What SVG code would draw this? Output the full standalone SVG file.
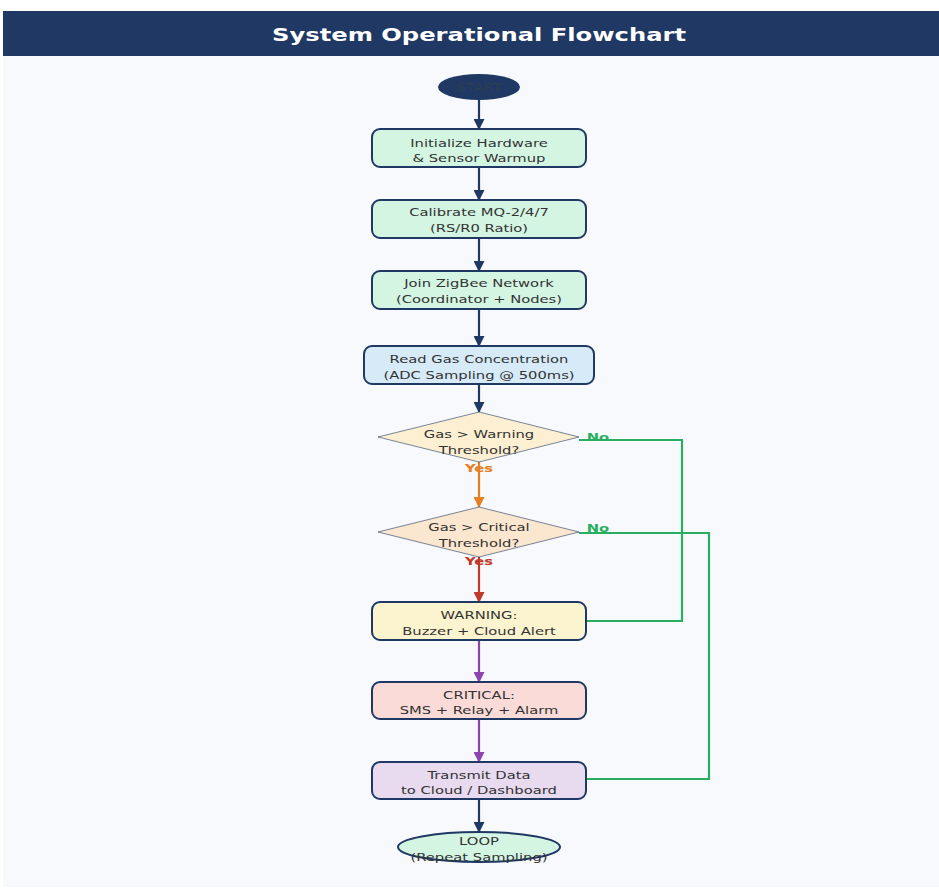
<svg xmlns="http://www.w3.org/2000/svg" width="939" height="889" viewBox="0 0 939 889">
<style>
.t{font-family:"DejaVu Sans",sans-serif;font-size:11px;fill:#333;text-anchor:middle}
.box{stroke:#1f3864;stroke-width:2}
.dia{stroke:#1f3864;stroke-width:1;stroke-opacity:0.6}
.c{fill:none;stroke-width:2.2}
.lbl{font-family:"DejaVu Sans",sans-serif;font-size:11px;font-weight:bold;text-anchor:middle}
</style>
<defs>
<marker id="aN" markerWidth="11" markerHeight="11" refX="10" refY="5.5" orient="auto" markerUnits="userSpaceOnUse"><path d="M0,0 L11,5.5 L0,11 Z" fill="#1f3864"/></marker>
<marker id="aO" markerWidth="11" markerHeight="11" refX="10" refY="5.5" orient="auto" markerUnits="userSpaceOnUse"><path d="M0,0 L11,5.5 L0,11 Z" fill="#e67e22"/></marker>
<marker id="aR" markerWidth="11" markerHeight="11" refX="10" refY="5.5" orient="auto" markerUnits="userSpaceOnUse"><path d="M0,0 L11,5.5 L0,11 Z" fill="#c0392b"/></marker>
<marker id="aP" markerWidth="11" markerHeight="11" refX="10" refY="5.5" orient="auto" markerUnits="userSpaceOnUse"><path d="M0,0 L11,5.5 L0,11 Z" fill="#8e44ad"/></marker>
</defs>
<rect x="0" y="0" width="939" height="889" fill="#ffffff"/>
<rect x="3" y="56" width="936" height="831" fill="#f7f9fd"/>
<rect x="3" y="11" width="936" height="45" fill="#1f3864"/>
<text x="479" y="41" font-family="'DejaVu Sans',sans-serif" font-size="18" font-weight="bold" fill="#ffffff" text-anchor="middle" textLength="414" lengthAdjust="spacingAndGlyphs">System Operational Flowchart</text>

<g id="connectors">
<line class="c" x1="479" y1="100" x2="479" y2="129" stroke="#1f3864" marker-end="url(#aN)"/>
<line class="c" x1="479" y1="167" x2="479" y2="200" stroke="#1f3864" marker-end="url(#aN)"/>
<line class="c" x1="479" y1="238" x2="479" y2="271" stroke="#1f3864" marker-end="url(#aN)"/>
<line class="c" x1="479" y1="309" x2="479" y2="346" stroke="#1f3864" marker-end="url(#aN)"/>
<line class="c" x1="479" y1="384" x2="479" y2="412" stroke="#1f3864" marker-end="url(#aN)"/>
<line class="c" x1="479" y1="462" x2="479" y2="507" stroke="#e67e22" marker-end="url(#aO)"/>
<line class="c" x1="479" y1="557" x2="479" y2="602" stroke="#c0392b" marker-end="url(#aR)"/>
<line class="c" x1="479" y1="640" x2="479" y2="682" stroke="#8e44ad" marker-end="url(#aP)"/>
<line class="c" x1="479" y1="719" x2="479" y2="762" stroke="#8e44ad" marker-end="url(#aP)"/>
<line class="c" x1="479" y1="799" x2="479" y2="832" stroke="#1f3864" marker-end="url(#aN)"/>
<polyline class="c" points="579,440 682,440 682,621 586,621" stroke="#27ae60"/>
<polyline class="c" points="579,533 709,533 709,779 586,779" stroke="#27ae60"/>
<g transform="matrix(1.34,0,0,1,-203.32,0)">
<text class="lbl" x="598" y="441" fill="#27ae60">No</text>
<text class="lbl" x="598" y="532" fill="#27ae60">No</text>
</g>
<g transform="matrix(1.34,0,0,1,-162.86,0)">
<text class="lbl" x="479" y="472" fill="#e67e22">Yes</text>
<text class="lbl" x="479" y="565" fill="#c0392b">Yes</text>
</g>
</g>

<g id="start">
<ellipse cx="479" cy="87" rx="41" ry="13" fill="#1f3864"/>
<g transform="matrix(1.34,0,0,1,-162.86,0)"><text class="t" x="479" y="91" style="fill:#2c3e50">START</text></g>
</g>
<g id="init">
<rect class="box" x="372" y="129" width="214" height="38" rx="8" fill="#d5f5e3"/>
<g transform="matrix(1.34,0,0,1,-162.86,0)">
<text class="t" x="479" y="147">Initialize Hardware</text>
<text class="t" x="479" y="162">&amp; Sensor Warmup</text>
</g>
</g>
<g id="calibrate">
<rect class="box" x="372" y="200" width="214" height="38" rx="8" fill="#d5f5e3"/>
<g transform="matrix(1.34,0,0,1,-162.86,0)">
<text class="t" x="479" y="216">Calibrate MQ-2/4/7</text>
<text class="t" x="479" y="232">(RS/R0 Ratio)</text>
</g>
</g>
<g id="zigbee">
<rect class="box" x="372" y="271" width="214" height="38" rx="8" fill="#d5f5e3"/>
<g transform="matrix(1.34,0,0,1,-162.86,0)">
<text class="t" x="479" y="287">Join ZigBee Network</text>
<text class="t" x="479" y="303">(Coordinator + Nodes)</text>
</g>
</g>
<g id="read">
<rect class="box" x="364" y="346" width="230" height="38" rx="8" fill="#d6eaf8"/>
<g transform="matrix(1.34,0,0,1,-162.86,0)">
<text class="t" x="479" y="363">Read Gas Concentration</text>
<text class="t" x="479" y="379">(ADC Sampling @ 500ms)</text>
</g>
</g>
<g id="warnDecision">
<polygon class="dia" points="479,412 579,437 479,462 378,437" fill="#fcefd2"/>
<g transform="matrix(1.34,0,0,1,-162.86,0)">
<text class="t" x="479" y="438">Gas &gt; Warning</text>
<text class="t" x="479" y="454">Threshold?</text>
</g>
</g>
<g id="critDecision">
<polygon class="dia" points="479,507 579,532 479,557 378,532" fill="#fbe7cf"/>
<g transform="matrix(1.34,0,0,1,-162.86,0)">
<text class="t" x="479" y="531">Gas &gt; Critical</text>
<text class="t" x="479" y="547">Threshold?</text>
</g>
</g>
<g id="warning">
<rect class="box" x="372" y="602" width="214" height="38" rx="8" fill="#fcf3cf"/>
<g transform="matrix(1.34,0,0,1,-162.86,0)">
<text class="t" x="479" y="619">WARNING:</text>
<text class="t" x="479" y="635">Buzzer + Cloud Alert</text>
</g>
</g>
<g id="critical">
<rect class="box" x="372" y="682" width="214" height="37" rx="8" fill="#fadbd8"/>
<g transform="matrix(1.34,0,0,1,-162.86,0)">
<text class="t" x="479" y="699">CRITICAL:</text>
<text class="t" x="479" y="714">SMS + Relay + Alarm</text>
</g>
</g>
<g id="transmit">
<rect class="box" x="372" y="762" width="214" height="37" rx="8" fill="#e8daef"/>
<g transform="matrix(1.34,0,0,1,-162.86,0)">
<text class="t" x="479" y="779">Transmit Data</text>
<text class="t" x="479" y="794">to Cloud / Dashboard</text>
</g>
</g>
<g id="loop">
<ellipse class="box" cx="479" cy="847" rx="81" ry="15" fill="#d5f5e3"/>
<g transform="matrix(1.34,0,0,1,-162.86,0)">
<text class="t" x="479" y="845">LOOP</text>
<text class="t" x="479" y="861">(Repeat Sampling)</text>
</g>
</g>
</svg>
